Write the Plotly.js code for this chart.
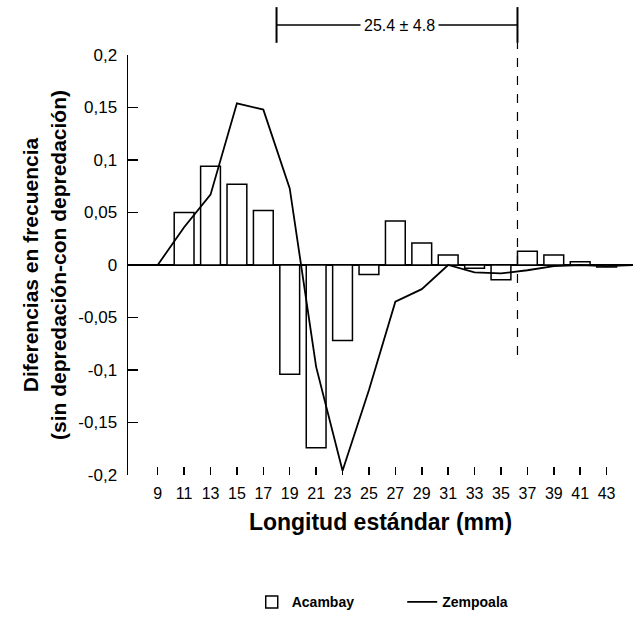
<!DOCTYPE html>
<html>
<head>
<meta charset="utf-8">
<script src="https://cdn.plot.ly/plotly-3.0.1.min.js"></script>
<style>html,body{margin:0;padding:0;background:#fff;}#chart{width:637px;height:622px;}</style>
</head>
<body>
<div id="chart"></div>
<script>
// Standard length classes (mm)
const lengthTicks = [9, 11, 13, 15, 17, 19, 21, 23, 25, 27, 29, 31, 33, 35, 37, 39, 41, 43];
const tickLabelsX = ["9", "11", "13", "15", "17", "19", "21", "23", "25", "27", "29", "31", "33", "35", "37", "39", "41", "43"];

// Acambay (bars)
const acambayX = [11, 13, 15, 17, 19, 21, 23, 25, 27, 29, 31, 33, 35, 37, 39, 41, 43];
const acambayY = [0.050, 0.094, 0.077, 0.052, -0.104, -0.174, -0.072, -0.009, 0.042, 0.021, 0.0095, -0.003, -0.014, 0.013, 0.0095, 0.003, -0.002];

// Zempoala (line)
const zempoalaX = [9, 11, 13, 15, 17, 19, 21, 23, 25, 27, 29, 31, 33, 35, 37, 39, 41, 43, 45];
const zempoalaY = [0, 0.036, 0.067, 0.154, 0.148, 0.073, -0.097, -0.196, -0.119, -0.035, -0.023, 0, -0.007, -0.008, -0.005, -0.001, 0, -0.001, 0];

// Y tick labels
const yTickVals = [-0.2, -0.15, -0.1, -0.05, 0, 0.05, 0.1, 0.15, 0.2];
const yTickText = ["-0,2", "-0,15", "-0,1", "-0,05", "0", "0,05", "0,1", "0,15", "0,2"];

// Bracket annotation (range of lengths)
const bracketLabel = "25.4 ± 4.8";
const bracketLow = 18;
const bracketHigh = 36.25;

const FONT = "Liberation Sans, Arial, sans-serif";
const legendFont = {family: FONT, size: 14, weight: "bold", color: "#000"};

const traces = [
  {
    type: "bar",
    name: "Acambay",
    x: acambayX,
    y: acambayY,
    marker: {color: "#ffffff", line: {color: "#000000", width: 1.5}},
    width: 1.5,
    legend: "legend"
  },
  {
    type: "scatter",
    mode: "lines",
    name: "Zempoala",
    x: zempoalaX,
    y: zempoalaY,
    line: {color: "#000000", width: 1.8},
    legend: "legend2"
  }
];

const layout = {
  width: 637,
  height: 622,
  margin: {l: 128, r: 4, t: 55, b: 147},
  paper_bgcolor: "#ffffff",
  plot_bgcolor: "#ffffff",
  font: {family: FONT, color: "#000000"},
  showlegend: true,
  legend: {
    orientation: "h",
    x: 0.245, y: -0.265,
    xanchor: "left", yanchor: "top",
    font: legendFont
  },
  legend2: {
    orientation: "h",
    x: 0.543, y: -0.265,
    xanchor: "left", yanchor: "top",
    font: legendFont
  },
  xaxis: {
    range: [6.75, 45],
    tickmode: "array",
    tickvals: lengthTicks,
    ticktext: tickLabelsX,
    ticks: "inside",
    ticklen: 8,
    tickwidth: 1.5,
    tickcolor: "#000",
    showline: false,
    showgrid: false,
    zeroline: false,
    tickfont: {family: FONT, size: 16, color: "#000"},
    ticklabelstandoff: 7,
    title: {text: "<b>Longitud estándar (mm)</b>", font: {family: FONT, size: 23, color: "#000"}, standoff: 12},
    automargin: false
  },
  yaxis: {
    range: [-0.2, 0.2],
    tickmode: "array",
    tickvals: yTickVals,
    ticktext: yTickText,
    ticks: "inside",
    ticklen: 10,
    tickwidth: 1.5,
    tickcolor: "#000",
    showline: true,
    linecolor: "#000",
    linewidth: 1.5,
    showgrid: false,
    zeroline: true,
    zerolinecolor: "#000",
    zerolinewidth: 1.6,
    tickfont: {family: FONT, size: 17, color: "#000"},
    ticklabelstandoff: 6,
    title: {text: "<b>Diferencias en frecuencia<br>(sin depredación-con depredación)</b>", font: {family: FONT, size: 21, color: "#000"}, standoff: 6},
    automargin: false
  },
  bargap: 0.25,
  shapes: [
    {type: "line", xref: "x", yref: "paper", x0: bracketLow, x1: bracketHigh, y0: 1.0714, y1: 1.0714, line: {color: "#000", width: 1.3}},
    {type: "line", xref: "x", yref: "paper", x0: bracketLow, x1: bracketLow, y0: 1.029, y1: 1.114, line: {color: "#000", width: 2}},
    {type: "line", xref: "x", yref: "paper", x0: bracketHigh, x1: bracketHigh, y0: 1.029, y1: 1.114, line: {color: "#000", width: 2}},
    {type: "line", xref: "x", yref: "paper", x0: bracketHigh, x1: bracketHigh, y0: 0.286, y1: 1.029, line: {color: "#000", width: 1.2, dash: "dash"}}
  ],
  annotations: [
    {xref: "x", yref: "paper", x: 27.3, y: 1.0714, text: bracketLabel, showarrow: false,
     font: {family: FONT, size: 16, color: "#000"}, bgcolor: "#ffffff", borderpad: 3, xanchor: "center", yanchor: "middle"}
  ]
};

Plotly.newPlot("chart", traces, layout, {displayModeBar: false, staticPlot: true});
</script>
</body>
</html>
